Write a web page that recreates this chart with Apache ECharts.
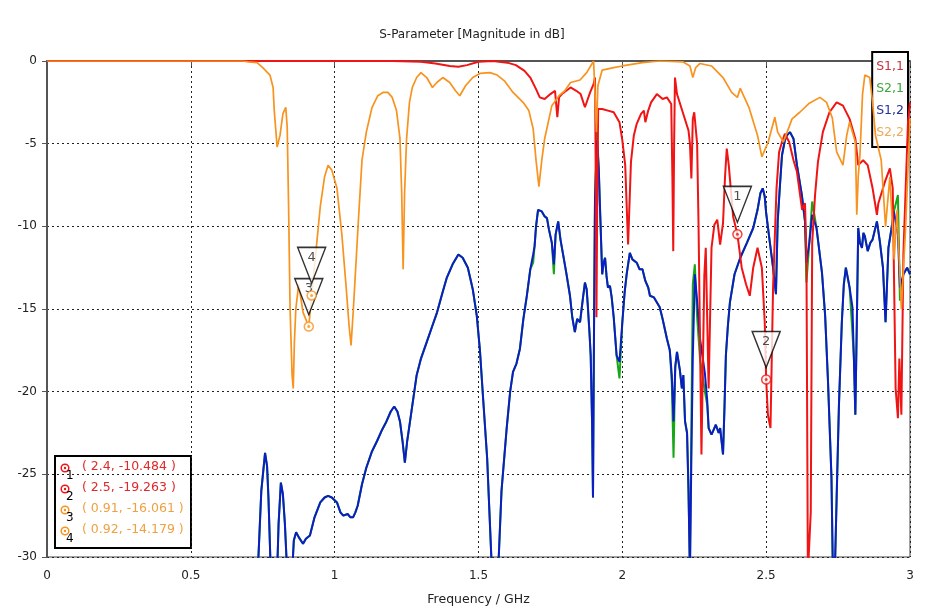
<!DOCTYPE html>
<html>
<head>
<meta charset="utf-8">
<script src="https://cdn.jsdelivr.net/npm/echarts@6/dist/echarts.min.js"></script>
<style>html,body{margin:0;padding:0;background:#fff}#c{width:944px;height:614px}</style>
</head>
<body>
<div id="c"></div>
<script>
// ---- data (frequency GHz, magnitude dB) ----
const xTicks = [0, 0.5, 1, 1.5, 2, 2.5, 3];
const yTicks = [0, -5, -10, -15, -20, -25, -30];
const seriesNames = ['S1,1', 'S2,1', 'S1,2', 'S2,2'];

const s11 = [[0,0],[1.2,0],[1.3,-0.05],[1.35,-0.15],[1.4,-0.3],[1.43,-0.35],[1.46,-0.25],[1.5,-0.05],[1.55,0],[1.6,-0.1],[1.63,-0.25],[1.66,-0.6],[1.68,-1.0],[1.70,-1.7],[1.713,-2.2],[1.73,-2.3],[1.75,-2.0],[1.766,-1.8],[1.77,-2.6],[1.774,-3.4],[1.78,-2.2],[1.79,-2.0],[1.82,-1.6],[1.84,-1.8],[1.855,-2.0],[1.87,-2.8],[1.88,-2.3],[1.888,-1.9],[1.90,-1.4],[1.905,-1.0],[1.908,-8],[1.91,-15.5],[1.913,-8],[1.916,-2.9],[1.93,-2.9],[1.95,-3.0],[1.97,-3.1],[1.99,-3.7],[2.0,-4.8],[2.01,-6.3],[2.02,-11.1],[2.03,-6.1],[2.04,-4.5],[2.05,-3.8],[2.065,-3.2],[2.075,-3.0],[2.08,-3.7],[2.09,-3.0],[2.10,-2.5],[2.12,-2.0],[2.14,-2.3],[2.155,-2.2],[2.17,-2.6],[2.174,-7],[2.177,-11.5],[2.18,-5],[2.183,-1.0],[2.19,-2],[2.21,-3.1],[2.23,-4.2],[2.235,-5],[2.24,-7.1],[2.245,-3.5],[2.25,-3.1],[2.26,-5],[2.265,-10],[2.275,-23.8],[2.285,-13],[2.29,-11.3],[2.30,-19.8],[2.31,-11.3],[2.32,-9.9],[2.33,-9.6],[2.34,-11.1],[2.35,-9.8],[2.357,-7],[2.363,-5.3],[2.37,-6.3],[2.385,-9.4],[2.4,-10.484],[2.415,-12.5],[2.43,-13.5],[2.443,-14.2],[2.455,-12.5],[2.47,-11.3],[2.485,-12.5],[2.495,-15.8],[2.5,-19.263],[2.506,-21.4],[2.515,-22.2],[2.524,-13.7],[2.536,-7.7],[2.545,-5.5],[2.555,-4.9],[2.565,-4.4],[2.58,-4.9],[2.595,-6],[2.607,-6.7],[2.625,-9.0],[2.635,-8.6],[2.64,-11.7],[2.645,-31],[2.65,-31],[2.655,-27.3],[2.66,-11],[2.67,-8.1],[2.68,-6.1],[2.697,-4.3],[2.72,-3.1],[2.745,-2.5],[2.767,-2.7],[2.79,-3.5],[2.81,-4.7],[2.82,-6.3],[2.837,-6.0],[2.853,-6.3],[2.87,-7.7],[2.885,-9.3],[2.89,-8.6],[2.913,-7.3],[2.93,-6.5],[2.94,-7.7],[2.95,-19.8],[2.958,-21.6],[2.963,-18],[2.97,-21.4],[2.977,-11.7],[2.985,-7.7],[2.993,-3.7],[3.0,-2.5]];

const s12 = [[0.72,-33],[0.735,-30],[0.745,-26],[0.758,-23.7],[0.765,-24.5],[0.77,-26.5],[0.778,-31],[0.80,-31],[0.805,-28],[0.813,-25.5],[0.82,-26.2],[0.827,-28],[0.835,-31],[0.852,-31],[0.858,-29],[0.866,-28.5],[0.875,-28.8],[0.89,-29.2],[0.90,-28.9],[0.914,-28.7],[0.93,-27.6],[0.95,-26.7],[0.965,-26.4],[0.977,-26.3],[0.99,-26.4],[1.008,-26.7],[1.02,-27.3],[1.03,-27.5],[1.045,-27.4],[1.055,-27.6],[1.064,-27.6],[1.072,-27.3],[1.08,-26.9],[1.095,-25.6],[1.11,-24.6],[1.13,-23.6],[1.147,-23.0],[1.165,-22.3],[1.18,-21.8],[1.195,-21.2],[1.207,-20.9],[1.218,-21.2],[1.227,-21.8],[1.236,-23],[1.244,-24.3],[1.252,-23],[1.262,-21.8],[1.285,-19],[1.30,-18],[1.32,-17],[1.34,-16],[1.356,-15.2],[1.375,-14],[1.39,-13.1],[1.41,-12.3],[1.43,-11.7],[1.445,-11.9],[1.463,-12.5],[1.48,-13.8],[1.494,-15.4],[1.505,-17.5],[1.516,-20.4],[1.53,-24],[1.547,-31],[1.568,-31],[1.58,-26],[1.598,-22.2],[1.61,-20],[1.62,-18.8],[1.632,-18.3],[1.644,-17.4],[1.656,-15.6],[1.668,-14.2],[1.68,-12.6],[1.69,-11.7],[1.695,-11.2],[1.70,-10],[1.707,-9.0],[1.72,-9.1],[1.73,-9.4],[1.738,-9.5],[1.745,-10.2],[1.755,-11.0],[1.762,-12.3],[1.768,-10.5],[1.777,-9.7],[1.785,-10.8],[1.794,-11.7],[1.805,-12.8],[1.818,-14.2],[1.826,-15.5],[1.835,-16.4],[1.843,-15.6],[1.853,-15.8],[1.862,-14.5],[1.87,-13.4],[1.876,-13.8],[1.88,-14.8],[1.886,-16.5],[1.89,-17.8],[1.895,-22],[1.898,-26.4],[1.902,-15],[1.905,-8.3],[1.912,-4.8],[1.918,-6.5],[1.922,-8.7],[1.93,-12.9],[1.935,-12.2],[1.94,-11.9],[1.945,-13],[1.95,-13.7],[1.957,-13.6],[1.963,-14.3],[1.97,-15.5],[1.98,-17.8],[1.99,-18.2],[2.0,-15.8],[2.008,-14],[2.015,-12.9],[2.026,-11.6],[2.035,-12.0],[2.05,-12.2],[2.06,-12.6],[2.07,-12.6],[2.08,-13.3],[2.09,-13.7],[2.096,-14.2],[2.11,-14.3],[2.13,-14.9],[2.14,-15.6],[2.155,-16.8],[2.165,-17.5],[2.172,-19],[2.178,-21.8],[2.184,-18.5],[2.19,-17.6],[2.2,-18.7],[2.207,-19.8],[2.212,-19],[2.218,-21.8],[2.225,-22.5],[2.23,-26],[2.235,-31],[2.24,-24],[2.245,-17.9],[2.252,-12.9],[2.26,-14.5],[2.27,-16.8],[2.287,-18.9],[2.295,-20.5],[2.30,-22.2],[2.31,-22.6],[2.315,-22.4],[2.325,-22],[2.335,-22.5],[2.34,-22.2],[2.35,-23.8],[2.355,-21],[2.36,-17.8],[2.367,-16],[2.374,-14.6],[2.39,-12.9],[2.41,-11.9],[2.433,-11.0],[2.455,-10.1],[2.47,-9.0],[2.48,-8.0],[2.488,-7.7],[2.495,-8.2],[2.50,-9.2],[2.513,-11],[2.524,-12.5],[2.534,-14.1],[2.54,-9.7],[2.548,-7.5],[2.555,-5.7],[2.565,-4.8],[2.572,-4.5],[2.583,-4.3],[2.595,-4.7],[2.607,-6.3],[2.624,-8.1],[2.635,-9.7],[2.64,-12.2],[2.65,-11],[2.66,-9.3],[2.675,-10.1],[2.694,-12.8],[2.705,-15.4],[2.715,-19.4],[2.72,-21.8],[2.727,-25.2],[2.732,-31],[2.74,-30],[2.745,-26.4],[2.753,-20.8],[2.763,-15.8],[2.77,-13.5],[2.777,-12.5],[2.79,-13.7],[2.80,-14.9],[2.805,-18],[2.81,-21.4],[2.815,-16],[2.82,-10.1],[2.826,-11],[2.833,-11.3],[2.838,-10.4],[2.843,-10.6],[2.853,-11.5],[2.862,-11],[2.87,-10.8],[2.885,-9.7],[2.895,-10.9],[2.906,-12.5],[2.915,-15.8],[2.925,-11.3],[2.935,-10.2],[2.944,-9.1],[2.958,-10.5],[2.965,-13.7],[2.977,-12.9],[2.99,-12.5],[3.0,-12.9]];

const s21 = [[0.72,-33],[0.735,-30],[0.745,-26],[0.758,-23.7],[0.765,-24.5],[0.77,-26.5],[0.778,-31],[0.80,-31],[0.805,-28],[0.813,-25.5],[0.82,-26.2],[0.827,-28],[0.835,-31],[0.852,-31],[0.858,-29],[0.866,-28.5],[0.875,-28.8],[0.89,-29.2],[0.90,-28.9],[0.914,-28.7],[0.93,-27.6],[0.95,-26.7],[0.965,-26.4],[0.977,-26.3],[0.99,-26.4],[1.008,-26.7],[1.02,-27.3],[1.03,-27.5],[1.045,-27.4],[1.055,-27.6],[1.064,-27.6],[1.072,-27.3],[1.08,-26.9],[1.095,-25.6],[1.11,-24.6],[1.13,-23.6],[1.147,-23.0],[1.165,-22.3],[1.18,-21.8],[1.195,-21.2],[1.207,-20.9],[1.218,-21.2],[1.227,-21.8],[1.236,-23],[1.244,-24.3],[1.252,-23],[1.262,-21.8],[1.285,-19],[1.30,-18],[1.32,-17],[1.34,-16],[1.356,-15.2],[1.375,-14],[1.39,-13.1],[1.41,-12.3],[1.43,-11.7],[1.445,-11.9],[1.463,-12.5],[1.48,-13.8],[1.494,-15.4],[1.505,-17.5],[1.516,-20.4],[1.53,-24],[1.547,-31],[1.568,-31],[1.58,-26],[1.598,-22.2],[1.61,-20],[1.62,-18.8],[1.632,-18.3],[1.644,-17.4],[1.656,-15.6],[1.668,-14.2],[1.68,-12.6],[1.69,-12.2],[1.695,-11.2],[1.70,-10],[1.707,-9.0],[1.72,-9.1],[1.73,-9.4],[1.738,-9.5],[1.745,-10.2],[1.755,-11.0],[1.762,-12.9],[1.768,-10.5],[1.777,-9.7],[1.785,-10.8],[1.794,-11.7],[1.805,-12.8],[1.818,-14.2],[1.826,-15.5],[1.835,-16.4],[1.843,-15.6],[1.853,-15.8],[1.862,-14.5],[1.87,-13.4],[1.876,-13.8],[1.88,-14.8],[1.886,-16.5],[1.89,-17.8],[1.895,-22],[1.898,-26.4],[1.902,-15],[1.905,-8.3],[1.912,-4.2],[1.918,-6.5],[1.922,-8.7],[1.93,-12.9],[1.935,-12.2],[1.94,-11.9],[1.945,-13],[1.95,-13.7],[1.957,-13.6],[1.963,-14.3],[1.97,-15.5],[1.98,-17.8],[1.99,-19.2],[2.0,-15.8],[2.008,-14],[2.015,-12.9],[2.026,-11.6],[2.035,-12.0],[2.05,-12.2],[2.06,-12.6],[2.07,-12.6],[2.08,-13.3],[2.09,-13.7],[2.096,-14.2],[2.11,-14.3],[2.13,-14.9],[2.14,-15.6],[2.155,-16.8],[2.165,-17.5],[2.172,-19.5],[2.178,-24],[2.184,-18.5],[2.19,-17.6],[2.2,-18.7],[2.207,-19.8],[2.212,-19],[2.218,-21.8],[2.225,-22.5],[2.23,-26],[2.235,-31],[2.24,-22],[2.245,-13.5],[2.252,-12.3],[2.26,-15.5],[2.27,-18],[2.287,-20],[2.295,-20.8],[2.30,-22.2],[2.31,-22.6],[2.315,-22.4],[2.325,-22],[2.335,-22.5],[2.34,-22.2],[2.35,-23.8],[2.355,-21],[2.36,-17.8],[2.367,-16],[2.374,-14.6],[2.39,-12.9],[2.41,-11.9],[2.433,-11.0],[2.455,-10.1],[2.47,-9.0],[2.48,-8.0],[2.488,-7.7],[2.495,-8.2],[2.50,-9.2],[2.513,-11],[2.524,-12.5],[2.534,-14.1],[2.54,-9.7],[2.548,-7.5],[2.555,-5.7],[2.565,-4.8],[2.572,-4.5],[2.583,-4.3],[2.595,-4.7],[2.607,-6.3],[2.624,-8.1],[2.635,-9.7],[2.64,-13.4],[2.65,-11],[2.66,-8.5],[2.675,-10.1],[2.694,-12.8],[2.705,-15.4],[2.715,-19.4],[2.72,-21.8],[2.727,-25.2],[2.732,-31],[2.74,-30],[2.745,-26.4],[2.753,-20.8],[2.763,-15.8],[2.77,-13.5],[2.777,-12.5],[2.79,-13.7],[2.80,-16.5],[2.805,-18],[2.81,-21.4],[2.815,-16],[2.82,-10.1],[2.826,-11],[2.833,-11.3],[2.838,-10.4],[2.843,-10.6],[2.853,-11.5],[2.862,-11],[2.87,-10.8],[2.885,-9.7],[2.895,-10.9],[2.906,-12.5],[2.915,-15.8],[2.925,-11.3],[2.935,-10.2],[2.944,-9.1],[2.958,-8.1],[2.965,-14.5],[2.977,-12.9],[2.99,-12.5],[3.0,-12.9]];

const s22 = [[0,0],[0.68,0],[0.70,-0.05],[0.73,-0.1],[0.75,-0.4],[0.775,-0.85],[0.786,-1.6],[0.79,-3],[0.80,-5.2],[0.81,-4.5],[0.82,-3.2],[0.83,-2.8],[0.835,-4],[0.84,-9],[0.845,-15],[0.852,-19],[0.856,-19.8],[0.86,-17],[0.865,-15],[0.875,-13.5],[0.89,-15.2],[0.91,-16.061],[0.92,-14.179],[0.935,-11.5],[0.95,-8.8],[0.965,-7.0],[0.977,-6.3],[0.99,-6.6],[1.008,-7.7],[1.025,-10.5],[1.04,-13.7],[1.05,-16],[1.057,-17.2],[1.065,-15],[1.082,-9.8],[1.095,-6],[1.11,-4.3],[1.13,-2.8],[1.15,-2.1],[1.168,-1.9],[1.185,-1.9],[1.20,-2.2],[1.215,-3],[1.227,-4.7],[1.233,-8],[1.238,-12.6],[1.243,-8],[1.25,-4.7],[1.26,-2.5],[1.27,-1.6],[1.285,-1.0],[1.30,-0.7],[1.32,-1.0],[1.34,-1.6],[1.355,-1.3],[1.376,-1.0],[1.40,-1.3],[1.42,-1.8],[1.435,-2.1],[1.455,-1.5],[1.48,-1.0],[1.505,-0.75],[1.54,-0.7],[1.565,-0.85],[1.59,-1.2],[1.62,-1.9],[1.655,-2.5],[1.675,-3.0],[1.69,-4.1],[1.70,-6],[1.71,-7.6],[1.72,-6],[1.73,-4.7],[1.755,-2.7],[1.78,-2.1],[1.80,-1.8],[1.82,-1.3],[1.853,-1.15],[1.876,-0.7],[1.895,-0.15],[1.90,0],[1.905,-2],[1.91,-4.3],[1.915,-1.5],[1.93,-0.55],[1.97,-0.4],[2.0,-0.3],[2.07,-0.1],[2.13,0],[2.21,-0.05],[2.235,-0.3],[2.245,-1.0],[2.255,-0.4],[2.27,-0.15],[2.31,-0.3],[2.35,-1.0],[2.38,-1.9],[2.40,-2.2],[2.41,-1.65],[2.44,-2.8],[2.47,-4.5],[2.485,-5.8],[2.507,-4.9],[2.53,-3.4],[2.54,-4.3],[2.56,-4.9],[2.59,-3.5],[2.617,-3.1],[2.65,-2.55],[2.687,-2.2],[2.71,-2.5],[2.73,-3.45],[2.745,-5.5],[2.767,-6.3],[2.78,-4.5],[2.79,-3.7],[2.81,-4.9],[2.815,-9.3],[2.82,-7],[2.826,-5.7],[2.835,-2],[2.843,-0.85],[2.86,-1],[2.87,-2.5],[2.88,-4.5],[2.90,-6],[2.915,-10],[2.93,-7],[2.945,-12],[2.955,-9],[2.97,-15],[2.985,-10],[3.0,-3.5]];

// markers: id, frequency, value, which curve
const markerIds = [1, 2, 3, 4];
const markerFreq = [2.4, 2.5, 0.91, 0.92];
const markerVal = [-10.484, -19.263, -16.061, -14.179];
const markerCurve = ['S1,1', 'S1,1', 'S2,2', 'S2,2'];

// ---- styling ----
const colors = {'S1,1': '#f01414', 'S2,1': '#16a716', 'S1,2': '#0c1dc6', 'S2,2': '#f7931e'};
const legendText = {'S1,1': '#c8323f', 'S2,1': '#3aa83a', 'S1,2': '#23339a', 'S2,2': '#f0aa5a'};
const tableText = {'S1,1': '#e02828', 'S2,2': '#f0a040'};
const FONT = 'DejaVu Sans';

const chart = echarts.init(document.getElementById('c'));

function lineSeries(name, data, width, z) {
  return {
    name, type: 'line', data, showSymbol: false, symbol: 'none', z,
    lineStyle: {color: colors[name], width}, itemStyle: {color: colors[name]},
    animation: false, clip: true
  };
}

const ringData = markerIds.map((id, i) => ({value: [markerFreq[i], markerVal[i]],
  itemStyle: {color: '#fff', borderColor: colors[markerCurve[i]], borderWidth: 1.5}}));
const dotData = markerIds.map((id, i) => ({value: [markerFreq[i], markerVal[i]],
  itemStyle: {color: colors[markerCurve[i]]}}));
const triData = markerIds.map((id, i) => ({value: [markerFreq[i], markerVal[i]], name: String(id)}));

// marker table graphic
const tbl = {type: 'group', left: 54, top: 455, children: []};
tbl.children.push({type: 'rect', shape: {x: 0, y: 0, width: 136, height: 92},
  style: {fill: '#fff', stroke: '#000', lineWidth: 2}});
markerIds.forEach((id, i) => {
  const c = colors[markerCurve[i]];
  const y = 12 + i * 21;
  tbl.children.push({type: 'circle', shape: {cx: 10, cy: y, r: 3.8}, style: {fill: '#fff', stroke: c, lineWidth: 1.5}});
  tbl.children.push({type: 'circle', shape: {cx: 10, cy: y, r: 1.2}, style: {fill: c}});
  tbl.children.push({type: 'text', x: 11, y: y + 2, style: {text: String(id), fill: '#000', font: '12px ' + FONT}});
  tbl.children.push({type: 'text', x: 27, y: y - 8, style: {
    text: '( ' + markerFreq[i] + ', ' + markerVal[i] + ' )', fill: tableText[markerCurve[i]], font: '12.5px ' + FONT}});
});

const option = {
  animation: false,
  backgroundColor: '#fff',
  title: {text: 'S-Parameter [Magnitude in dB]', left: 'center', top: 24,
    textStyle: {fontFamily: FONT, fontSize: 12, fontWeight: 'normal', color: '#222'}},
  grid: {left: 47, right: 34, top: 61, bottom: 57, show: true, borderColor: '#444', borderWidth: 1, backgroundColor: '#fff'},
  legend: {
    orient: 'vertical', right: 36, top: 52, itemGap: 9, itemWidth: 0, itemHeight: 0, icon: 'rect',
    backgroundColor: '#fff', borderColor: '#000', borderWidth: 2, padding: [8, 4, 8, 4],
    data: seriesNames.map(n => ({name: n, textStyle: {color: legendText[n]}})),
    textStyle: {fontFamily: FONT, fontSize: 12.5, padding: [0, 0, 0, -5]}, selectedMode: false
  },
  xAxis: {
    type: 'value', min: 0, max: 3, interval: 0.5,
    name: 'Frequency / GHz', nameLocation: 'middle', nameGap: 36,
    nameTextStyle: {fontFamily: FONT, fontSize: 12.5, color: '#222'},
    axisLine: {show: true, lineStyle: {color: '#555', width: 2}},
    axisTick: {show: true, length: 5, lineStyle: {color: '#555'}},
    axisLabel: {fontFamily: FONT, fontSize: 12, color: '#222', margin: 13, formatter: v => String(v)},
    splitLine: {show: true, lineStyle: {color: '#222', type: [2, 3], width: 1}}
  },
  yAxis: {
    type: 'value', min: -30, max: 0, interval: 5,
    axisLine: {show: true, lineStyle: {color: '#555', width: 2}},
    axisTick: {show: true, length: 5, lineStyle: {color: '#555'}},
    axisLabel: {fontFamily: FONT, fontSize: 12, color: '#222', margin: 10},
    splitLine: {show: true, lineStyle: {color: '#222', type: [2, 3], width: 1}}
  },
  series: [
    lineSeries('S2,1', s21, 2, 2),
    lineSeries('S1,2', s12, 2, 3),
    lineSeries('S1,1', s11, 2, 4),
    lineSeries('S2,2', s22, 1.7, 5),
    {type: 'scatter', data: triData, symbol: 'path://M0,0 L28,0 L14,36 Z', symbolSize: [28, 36],
      symbolOffset: [0, -30], z: 10, silent: true,
      itemStyle: {color: '#fff', borderColor: '#000', borderWidth: 1.5},
      label: {show: true, position: 'inside', offset: [0, -8], formatter: p => p.name,
        fontFamily: FONT, fontSize: 13, color: '#222'}},
    {type: 'scatter', data: ringData, symbol: 'circle', symbolSize: 9, z: 11, silent: true},
    {type: 'scatter', data: dotData, symbol: 'circle', symbolSize: 3, z: 12, silent: true}
  ],
  graphic: [tbl]
};
chart.setOption(option);
</script>
</body>
</html>
